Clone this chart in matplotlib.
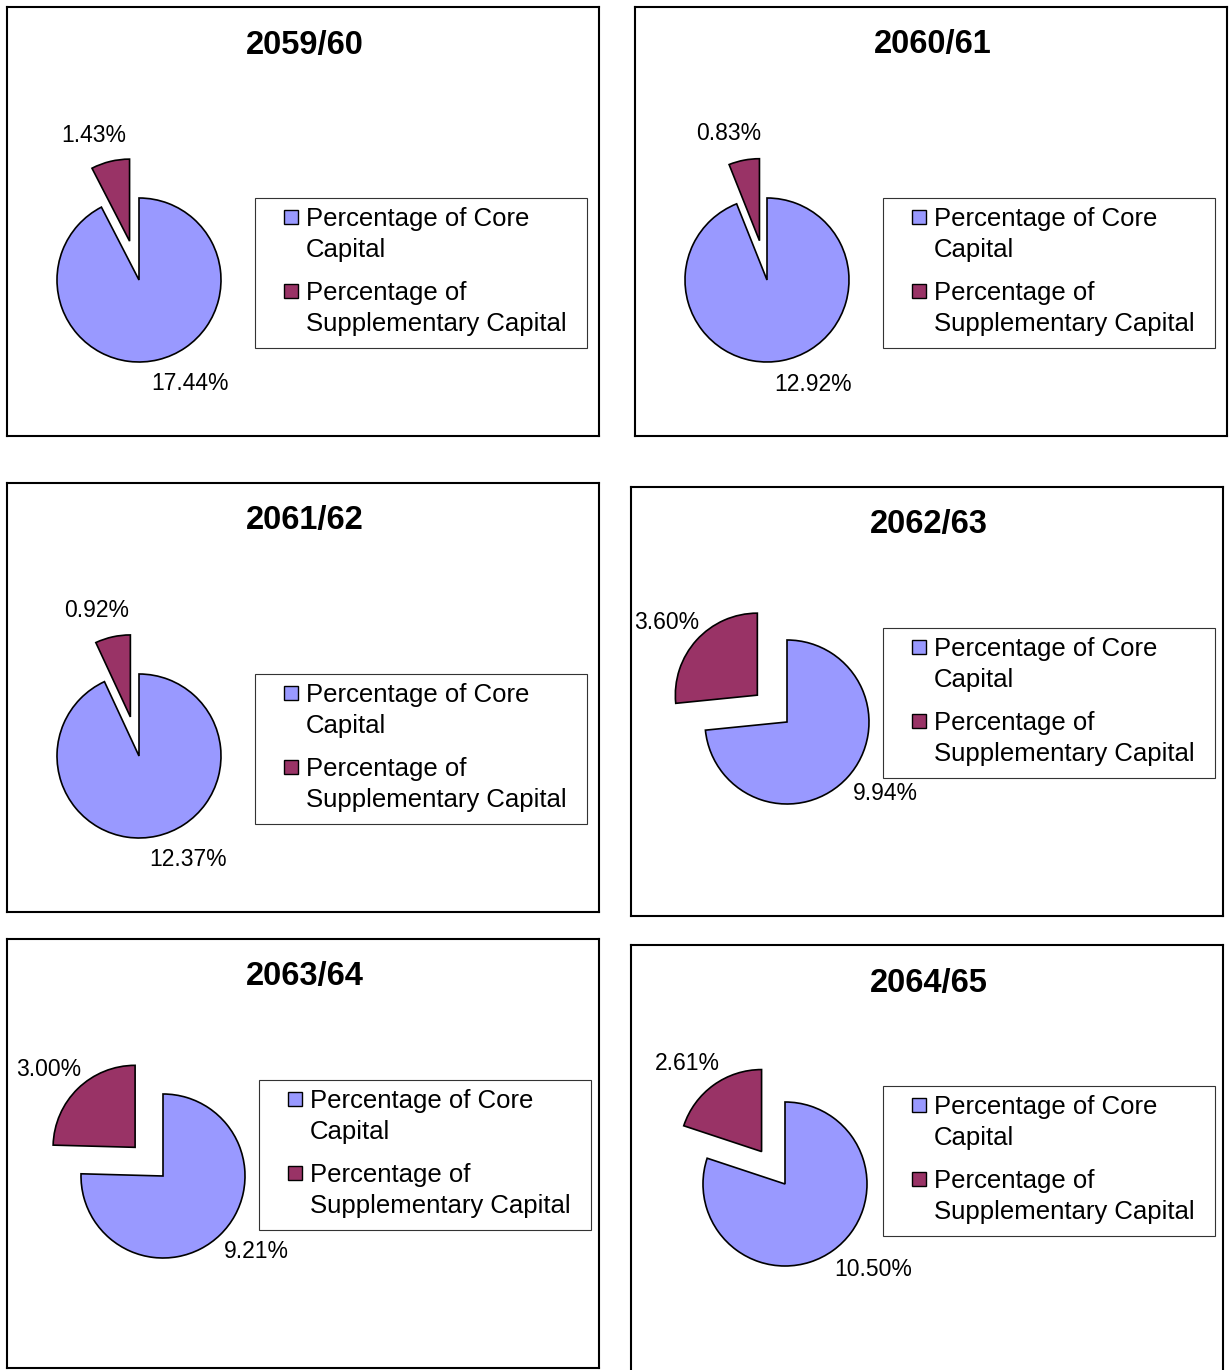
import numpy as np
import matplotlib
matplotlib.use('Agg')
import matplotlib.pyplot as plt
from matplotlib.patches import Rectangle

plt.rcParams['font.family'] = ['Liberation Sans', 'DejaVu Sans']

FIG_W, FIG_H = 1232, 1370
DPI = 100

years = ['2059/60', '2060/61', '2061/62', '2062/63', '2063/64', '2064/65']
core_capital = [17.44, 12.92, 12.37, 9.94, 9.21, 10.50]
supplementary_capital = [1.43, 0.83, 0.92, 3.60, 3.00, 2.61]
series_names = ['Percentage of Core\nCapital', 'Percentage of\nSupplementary Capital']
series_colors = ['#9999FF', '#993366']

# panel frames: left, top, right, bottom in pixels from the top-left corner
PANELS = [(7, 7, 599, 436), (635, 7, 1227, 436), (7, 483, 599, 912),
          (631, 487, 1223, 916), (7, 939, 599, 1368), (631, 945, 1223, 1374)]
# pie centre and legend corner, relative to each panel's top-left corner
PIE_CENTRES = [(132, 273), (132, 273), (132, 273), (156, 235), (156, 237), (154, 239)]
LEGEND_CORNERS = [(248, 191), (248, 191), (248, 191), (252, 141), (252, 141), (252, 141)]
RADIUS = 82
EXPLODE = 40
LEG_W, LEG_H = 332, 150
FS_LEGEND = 18.5
FS_LABEL = 16.5
FS_TITLE = 23.5

fig = plt.figure(figsize=(FIG_W / DPI, FIG_H / DPI), dpi=DPI)

for i, year in enumerate(years):
    left, top, right, bottom = PANELS[i]
    w, h = right - left, bottom - top
    # one axes per panel, data units are pixels with y going up
    ax = fig.add_axes([left / FIG_W, 1 - bottom / FIG_H, w / FIG_W, h / FIG_H])
    cx, cy = PIE_CENTRES[i]
    values = [core_capital[i], supplementary_capital[i]]
    wedges, _ = ax.pie(values, colors=series_colors, startangle=90, counterclock=False,
                       explode=[0, EXPLODE], radius=RADIUS, center=(cx, h - cy), frame=True,
                       wedgeprops=dict(edgecolor='black', linewidth=1.2))
    ax.set_xlim(0, w)
    ax.set_ylim(0, h)
    ax.set_xticks([])
    ax.set_yticks([])
    for sp in ax.spines.values():
        sp.set_linewidth(1.5)
        sp.set_color('black')

    # value labels just outside each wedge
    for wedge, value, gap, shift, ha in zip(wedges, values, (24, 27), (-13, -10),
                                            ('left', 'center')):
        mid = np.deg2rad((wedge.theta1 + wedge.theta2) / 2)
        px = wedge.center[0] + (wedge.r + gap) * np.cos(mid) + shift
        py = wedge.center[1] + (wedge.r + gap) * np.sin(mid)
        ax.text(px, py, f'{value:.2f}%', ha=ha, va='center', fontsize=FS_LABEL)

    ax.text(w / 2 + 2, h - 38, year, ha='center', va='center',
            fontsize=FS_TITLE, fontweight='bold')

    # legend box
    lx, ly = LEGEND_CORNERS[i]
    ax.add_patch(Rectangle((lx, h - ly - LEG_H), LEG_W, LEG_H, fill=False,
                           edgecolor='#333333', linewidth=0.8))
    cap = 0.36 * FS_LEGEND * DPI / 72
    for k, (name, color) in enumerate(zip(series_names, series_colors)):
        ty = h - ly - 19 - 74 * k
        ax.add_patch(Rectangle((lx + 29, ty - 7), 14, 14, facecolor=color,
                               edgecolor='black', linewidth=1.0))
        for j, line in enumerate(name.split('\n')):
            ax.text(lx + 51, ty - 31 * j - cap, line, ha='left', va='baseline',
                    fontsize=FS_LEGEND)

fig.savefig('out.png', dpi=DPI)
